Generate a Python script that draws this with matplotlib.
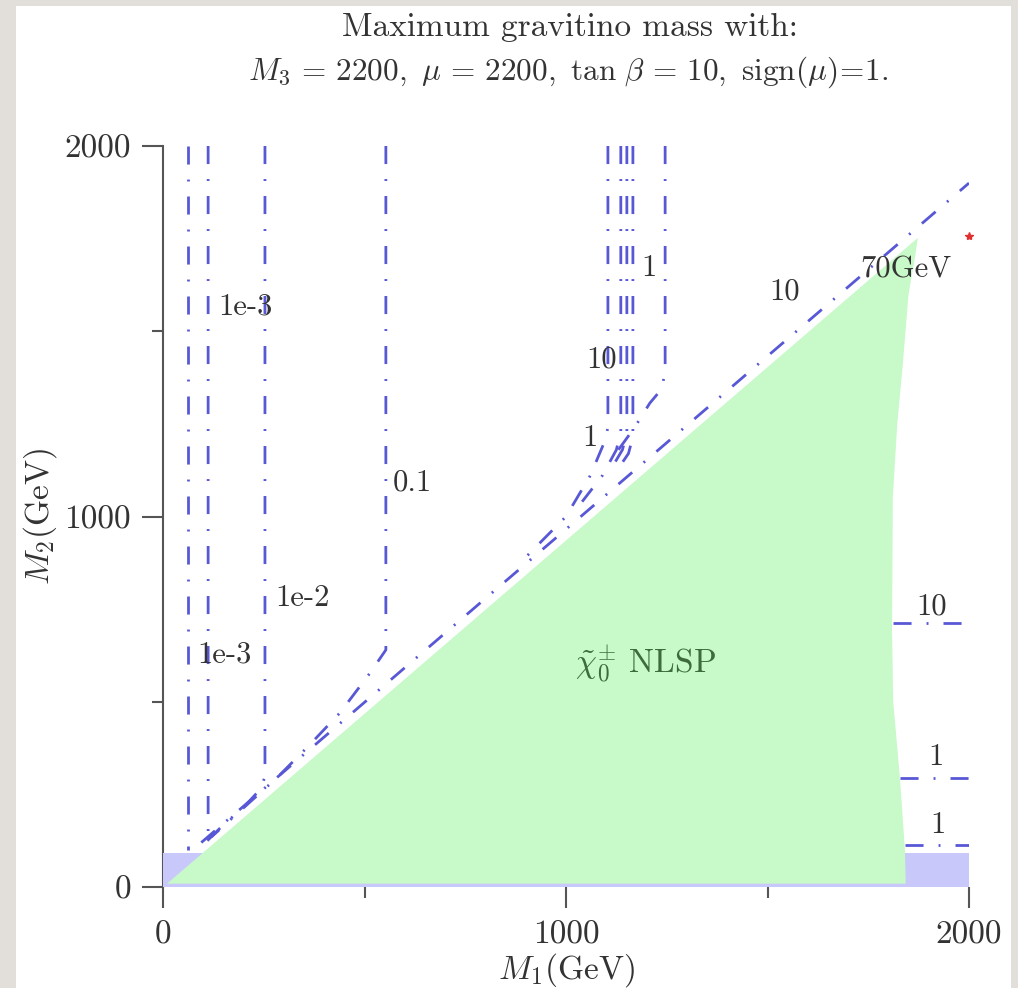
import matplotlib
matplotlib.use("Agg")
import matplotlib.pyplot as plt
from matplotlib.patches import Rectangle

plt.rcParams["mathtext.fontset"] = "cm"
plt.rcParams["font.family"] = ["cmr10", "DejaVu Serif"]
plt.rcParams["axes.formatter.use_mathtext"] = True

# --- data (M1, M2 in GeV) ---
blue_top = 92
green_x = [10, 1873, 1866, 1850, 1836, 1822, 1811, 1809, 1812, 1829, 1841, 1843]
green_y = [9, 1752, 1700, 1600, 1414, 1250, 1052, 694, 500, 289, 100, 9]

# contour lines of the maximum gravitino mass
contours = [
    ([95, 2000], [120, 1900]),                                   # diagonal
    ([62, 62], [2000, 100]),
    ([112, 112, 100], [2000, 150, 118]),
    ([253, 253, 240, 200, 150, 110], [2000, 297, 262, 215, 168, 125]),
    ([553, 553, 514, 439, 365, 283, 191, 120], [2000, 640, 578, 470, 385, 295, 205, 135]),
    ([1104, 1104, 1095, 1060, 1000, 900], [2000, 1240, 1200, 1110, 1000, 890]),
    ([1136, 1136, 1125, 1090, 1040], [2000, 1230, 1180, 1110, 1040]),
    ([1151, 1151, 1140, 1110], [2000, 1225, 1180, 1125]),
    ([1166, 1166, 1155, 1130], [2000, 1215, 1170, 1130]),
    ([1246, 1246, 1238, 1208, 1170, 1130], [2000, 1395, 1345, 1306, 1240, 1180]),
    ([1811, 2000], [712, 712]),
    ([1828, 2000], [294, 294]),
    ([1840, 2000], [113, 113]),
]

label_text = ["1e-3", "1e-3", "1e-2", "0.1", "1", "10", "1", "10", "70GeV", "10", "1", "1"]
label_x = [205, 152, 345, 618, 1060, 1089, 1205, 1543, 1843, 1908, 1918, 1923]
label_y = [1565, 626, 780, 1090, 1212, 1422, 1670, 1606, 1665, 756, 351, 167]

marker_x = [2000]
marker_y = [1757]

x_major = [0, 1000, 2000]
x_minor = [500, 1500]
y_major = [0, 1000, 2000]
y_minor = [500, 1500]

W, H = 1018, 988
line_color = "#5858d6"
text_color = "#333333"

fig = plt.figure(figsize=(W / 100, H / 100), dpi=100, facecolor="#e2dfdb")
fig.patches.append(Rectangle((16 / W, 0), (1011 - 16) / W, 1 - 6 / H,
                             transform=fig.transFigure, facecolor="white",
                             edgecolor="none", zorder=-5))

ax = fig.add_axes([163 / W, 1 - 887 / H, (969 - 163) / W, (887 - 146) / H])
ax.set_xlim(0, 2000)
ax.set_ylim(0, 2000)
ax.patch.set_alpha(0)

ax.add_patch(Rectangle((0, 0), 2000, blue_top, facecolor="#c8c8fa",
                       edgecolor="none", zorder=1))
ax.fill(green_x, green_y, color="#c8f9c8", lw=0, zorder=1.5)

for xs, ys in contours:
    ax.plot(xs, ys, color=line_color, lw=2, ls=(0, (6.5, 5.4, 0.7, 5.4)),
            zorder=3)

for s, x, y in zip(label_text, label_x, label_y):
    ax.text(x, y, s, fontsize=22, color=text_color, ha="center", va="center",
            zorder=4)

ax.plot(marker_x, marker_y, marker="*", ms=6, color="#e03030", lw=0,
        clip_on=False, zorder=5)

ax.text(1198, 605, r"$\tilde{\chi}_0^{\pm}$ NLSP", fontsize=24,
        color="#3d6b3d", ha="center", va="center", zorder=4)

for side in ["top", "right", "bottom"]:
    ax.spines[side].set_visible(False)
ax.spines["left"].set_color("#555555")
ax.spines["left"].set_linewidth(1.5)
ax.spines["left"].set_zorder(0.5)

ax.set_xticks(x_major)
ax.set_xticks(x_minor, minor=True)
ax.set_yticks(y_major)
ax.set_yticks(y_minor, minor=True)
ax.set_xticklabels([str(v) for v in x_major])
ax.set_yticklabels([str(v) for v in y_major])
ax.tick_params(which="major", length=15, width=1.5, color="#555555",
               direction="out", labelsize=24, labelcolor=text_color)
ax.tick_params(which="minor", length=8, width=1.5, color="#555555",
               direction="out")
ax.tick_params(axis="x", which="major", pad=9)
ax.tick_params(axis="y", which="major", pad=8)

fig.text(566 / W, 1 - 970 / H, r"$M_1(\mathrm{GeV})$", fontsize=24,
         color=text_color, ha="center", va="center")
fig.text(40 / W, 1 - 517 / H, r"$M_2(\mathrm{GeV})$", fontsize=24,
         color=text_color, ha="center", va="center", rotation=90)
fig.text(570 / W, 1 - 27 / H, "Maximum gravitino mass with:", fontsize=24,
         color=text_color, ha="center", va="center")
fig.text(568 / W, 1 - 72 / H,
         r"$M_3\,=\,2200,\ \mu\,=\,2200,\ \tan\,\beta\,=\,10,\ \mathrm{sign}(\mu)\!=\!1.$",
         fontsize=22.5, color=text_color, ha="center", va="center")

fig.savefig("out.png", dpi=100, facecolor=fig.get_facecolor())
